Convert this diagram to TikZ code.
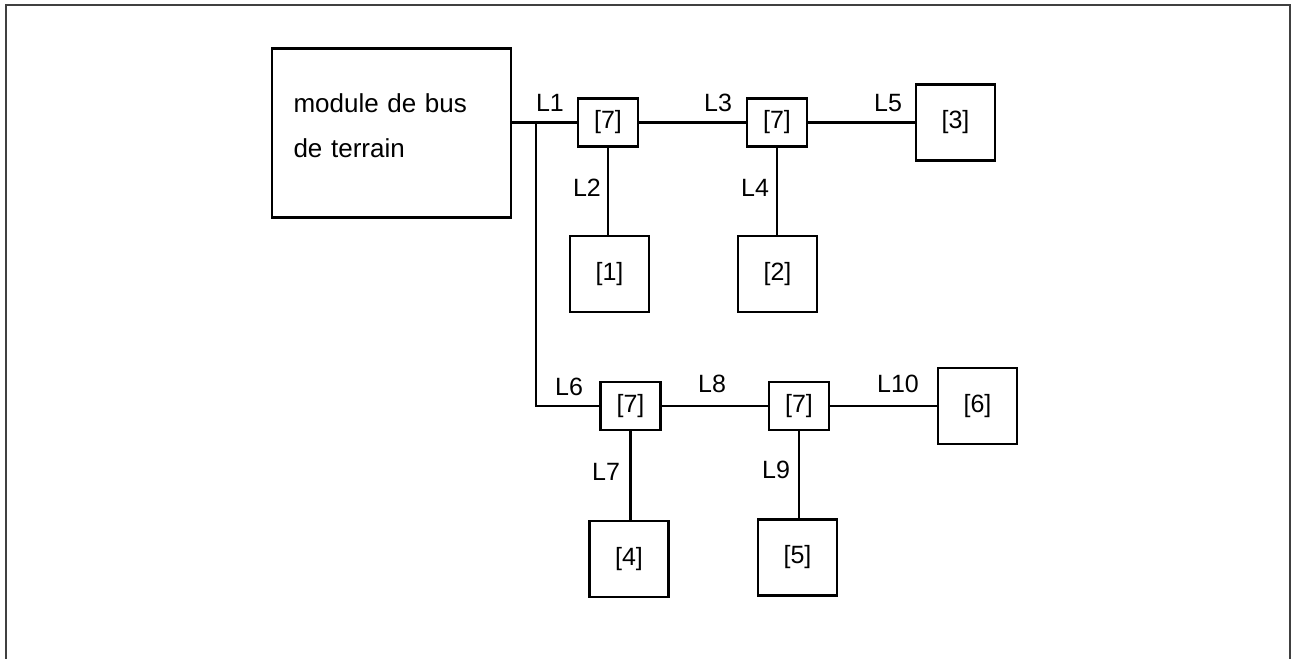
\documentclass[tikz,border=0pt]{standalone}
\usepackage{fontspec}
\setmainfont{Liberation Sans}
\usetikzlibrary{positioning}

\tikzset{
  box/.style={draw,line width=1.1pt,inner sep=0pt,font=\fontsize{12.5}{15}\selectfont},
  hub/.style={box,minimum width=30pt,minimum height=24pt},
  dev/.style={box,minimum width=39.5pt,minimum height=38pt},
  lbl/.style={inner sep=0pt,font=\fontsize{12.5}{15}\selectfont},
  wire/.style={line width=1.1pt}
}

\begin{document}
\begin{tikzpicture}[x=0.5pt,y=-0.5pt]
  \useasboundingbox (0,0) rectangle (1292,659);

  % Frame, open at the bottom
  \draw[black!75,line width=0.7pt] (6,659) -- (6,5) -- (1290,5) -- (1290,659);

  % Fieldbus module
  \node[box,minimum width=119.5pt,minimum height=84.5pt,align=left,
        text width=98pt,inner xsep=10.5pt,text depth=30pt,
        font=\fontsize{13}{22.5}\selectfont] (module) at (391.5,133) {module de bus\\de terrain};

  % Distributors [7]
  \node[hub] (hub1) at (608,122.5) {[7]};
  \node[hub] (hub2) at (777,122.5) {[7]};
  \node[hub] (hub3) at (630.5,406) {[7]};
  \node[hub] (hub4) at (799,406) {[7]};

  % Devices [1] ... [6]
  \node[dev] (dev1) at (609.5,274) {[1]};
  \node[dev] (dev2) at (777.5,274) {[2]};
  \node[dev] (dev3) at (955.5,122.5) {[3]};
  \node[dev] (dev4) at (629,559) {[4]};
  \node[dev] (dev5) at (797.5,557.5) {[5]};
  \node[dev] (dev6) at (977.5,406) {[6]};

  % Lines
  \coordinate (tee) at (536,122.5);
  \draw[wire] (hub1.west -| module.east) -- (hub1.west);
  \draw[wire] (tee) |- (hub3.west);
  \draw[wire] (hub1.east) -- (hub2.west);
  \draw[wire] (hub2.east) -- (dev3.west);
  \draw[wire] (hub1.south) -- (hub1.south |- dev1.north);
  \draw[wire] (hub2.south) -- (hub2.south |- dev2.north);
  \draw[wire] (hub3.east) -- (hub4.west);
  \draw[wire] (hub4.east) -- (dev6.west);
  \draw[wire] (hub3.south) -- (hub3.south |- dev4.north);
  \draw[wire] (hub4.south) -- (hub4.south |- dev5.north);

  % Line labels
  \foreach \name/\x/\y in {L1/550/103, L2/587/188, L3/718/103, L4/755/188, L5/888/103,
                           L6/569/387, L7/606/472, L8/712/384, L9/776/470, L10/898/384} {
    \node[lbl] (lab\name) at (\x,\y) {\name};
  }
\end{tikzpicture}
\end{document}
